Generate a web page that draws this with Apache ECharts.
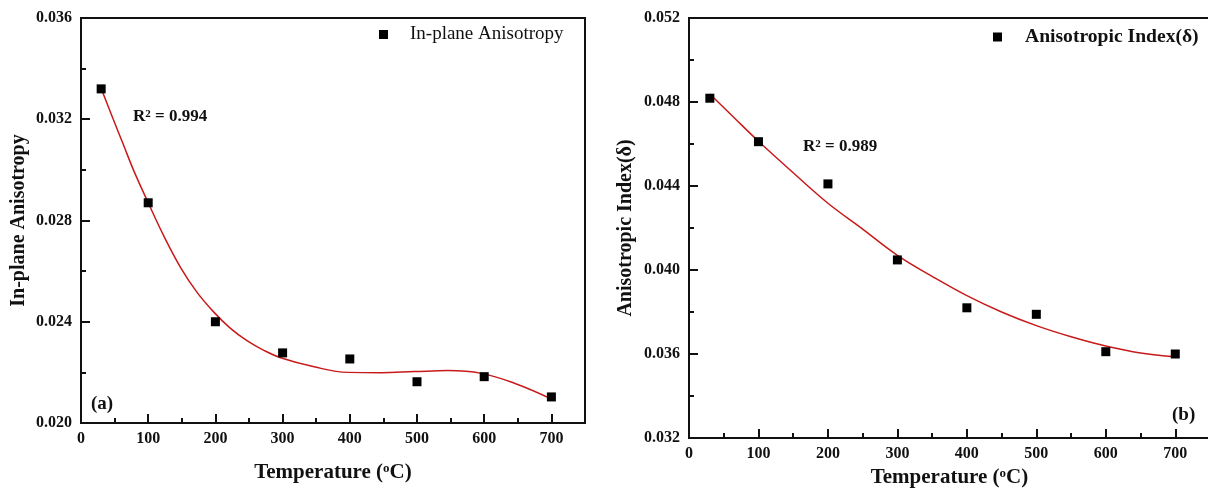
<!DOCTYPE html>
<html><head><meta charset="utf-8">
<script src="https://cdn.jsdelivr.net/npm/echarts@6/dist/echarts.min.js"></script>
<style>html,body{margin:0;padding:0;background:#fff}#c{width:1208px;height:490px}</style>
</head><body><div id="c"></div>
<script>
// Measured data (temperature in °C)
const temps = [30, 100, 200, 300, 400, 500, 600, 700];
const inPlane = [0.0332, 0.0287, 0.0240, 0.02277, 0.02253, 0.02163, 0.02183, 0.02103];
const anisoIndex = [0.04818, 0.04611, 0.0441, 0.04048, 0.0382, 0.03789, 0.03611, 0.0360];

// Fitted curves
const fitAX = [30, 48, 63, 78, 100, 123, 148, 173, 198, 222, 247, 272, 297, 347, 397, 446, 496, 546, 596, 645, 700];
const fitAY = [0.03322, 0.0320, 0.0310, 0.0300, 0.0287, 0.02740, 0.02615, 0.02515, 0.02437, 0.02375, 0.02325, 0.02287, 0.02258, 0.02222, 0.0220, 0.02199, 0.02203, 0.02207, 0.02196, 0.02157, 0.02095];
const fitBX = [30, 65, 100, 150, 200, 250, 300, 350, 400, 450, 500, 550, 600, 650, 700];
const fitBY = [0.04838, 0.04725, 0.04613, 0.04463, 0.04318, 0.04195, 0.0407, 0.0397, 0.03878, 0.0380, 0.03735, 0.03682, 0.03638, 0.03605, 0.03587];

// Axis settings
const xRange = [0, 750];
const yRangeA = [0.020, 0.036];
const yRangeB = [0.032, 0.052];
const yStep = 0.004;
const xStep = 100;

const seriesNameA = 'In-plane Anisotropy';
const seriesNameB = 'Anisotropic Index(δ)';
const r2A = '0.994';
const r2B = '0.989';

const FONT = "'Liberation Serif', 'Times New Roman', serif";
const INK = '#111';
const RED = '#c81a1a';

function xMain(grid, gap) {
  return {
    gridIndex: grid, type: 'value', min: xRange[0], max: xRange[1], interval: xStep,
    axisLine: { lineStyle: { color: INK, width: 2 } },
    axisTick: { inside: true, length: 9, lineStyle: { color: INK, width: 2 } },
    axisLabel: { margin: 8, fontSize: 16, fontWeight: 'bold', color: INK, fontFamily: FONT,
      formatter: v => (v % 100 === 0 ? String(v) : '') },
    splitLine: { show: false },
    name: '{t|Temperature (}{s|o}{t|C)}', nameLocation: 'middle', nameGap: gap,
    nameTextStyle: { rich: {
      t: { fontSize: 21, fontWeight: 'bold', color: INK, fontFamily: FONT },
      s: { fontSize: 13, fontWeight: 'bold', color: INK, fontFamily: FONT, verticalAlign: 'top' } } }
  };
}
function xMinor(grid) {
  return {
    gridIndex: grid, type: 'value', min: xRange[0], max: xRange[1], interval: xStep / 2, position: 'bottom',
    axisLine: { show: false }, axisLabel: { show: false }, splitLine: { show: false },
    axisTick: { inside: true, length: 5, lineStyle: { color: INK, width: 2 } }
  };
}
function yAx(grid, range, name, gap) {
  return {
    gridIndex: grid, type: 'value', min: range[0], max: range[1], interval: yStep,
    axisLine: { show: true, lineStyle: { color: INK, width: 2 } },
    axisTick: { show: true, inside: true, length: 9, lineStyle: { color: INK, width: 2 } },
    minorTick: { show: true, splitNumber: 2, length: 5, lineStyle: { color: INK, width: 2 } },
    axisLabel: { margin: 9, fontSize: 16, fontWeight: 'bold', color: INK, fontFamily: FONT,
      formatter: v => v.toFixed(3) },
    splitLine: { show: false }, minorSplitLine: { show: false },
    name: name, nameLocation: 'middle', nameGap: gap,
    nameTextStyle: { fontSize: 20, fontWeight: 'bold', color: INK, fontFamily: FONT }
  };
}

const chart = echarts.init(document.getElementById('c'));
chart.setOption({
  animation: false,
  backgroundColor: '#fff',
  grid: [
    { left: 81, top: 18, width: 504, height: 405, show: true, borderColor: INK, borderWidth: 2, backgroundColor: 'transparent', outerBoundsMode: 'none', containLabel: false },
    { left: 689, top: 18, width: 521, height: 420, show: true, borderColor: INK, borderWidth: 2, backgroundColor: 'transparent', outerBoundsMode: 'none', containLabel: false }
  ],
  xAxis: [xMain(0, 39), xMinor(0), xMain(1, 29), xMinor(1)],
  yAxis: [yAx(0, yRangeA, seriesNameA, 52), yAx(1, yRangeB, seriesNameB, 53)],
  legend: [
    { data: [seriesNameA], left: 379, top: 25, padding: 0, itemWidth: 9, itemHeight: 9, icon: 'rect', selectedMode: false,
      textStyle: { fontSize: 19, color: INK, fontFamily: FONT, padding: [0, 0, 0, 17] } },
    { data: [seriesNameB], left: 993, top: 27, padding: 0, itemWidth: 9, itemHeight: 9, icon: 'rect', selectedMode: false,
      textStyle: { fontSize: 19.6, fontWeight: 'bold', color: INK, fontFamily: FONT, padding: [0, 0, 0, 18] } }
  ],
  series: [
    { type: 'line', xAxisIndex: 0, yAxisIndex: 0, data: fitAX.map((x, i) => [x, fitAY[i]]), smooth: 0.4,
      showSymbol: false, symbol: 'none', lineStyle: { color: RED, width: 1.5 }, z: 2, silent: true },
    { type: 'scatter', name: seriesNameA, xAxisIndex: 0, yAxisIndex: 0, data: temps.map((x, i) => [x, inPlane[i]]),
      symbol: 'rect', symbolSize: 9, itemStyle: { color: '#000', opacity: 1 }, z: 3 },
    { type: 'line', xAxisIndex: 2, yAxisIndex: 1, data: fitBX.map((x, i) => [x, fitBY[i]]), smooth: 0.4,
      showSymbol: false, symbol: 'none', lineStyle: { color: RED, width: 1.5 }, z: 2, silent: true },
    { type: 'scatter', name: seriesNameB, xAxisIndex: 2, yAxisIndex: 1, data: temps.map((x, i) => [x, anisoIndex[i]]),
      symbol: 'rect', symbolSize: 9, itemStyle: { color: '#000', opacity: 1 }, z: 3 }
  ],
  graphic: [
    { type: 'text', x: 133, y: 117, style: { text: '{r|R}{s|2}{r| = ' + r2A + '}', verticalAlign: 'middle',
      rich: { r: { fontSize: 17, fontWeight: 'bold', fontFamily: FONT, fill: INK },
              s: { fontSize: 11, fontWeight: 'bold', fontFamily: FONT, fill: INK, verticalAlign: 'top' } } } },
    { type: 'text', x: 803, y: 147, style: { text: '{r|R}{s|2}{r| = ' + r2B + '}', verticalAlign: 'middle',
      rich: { r: { fontSize: 17, fontWeight: 'bold', fontFamily: FONT, fill: INK },
              s: { fontSize: 11, fontWeight: 'bold', fontFamily: FONT, fill: INK, verticalAlign: 'top' } } } },
    { type: 'text', x: 91, y: 404, style: { text: '(a)', verticalAlign: 'middle', fontSize: 19, fontWeight: 'bold', fontFamily: FONT, fill: INK } },
    { type: 'text', x: 1172, y: 415, style: { text: '(b)', verticalAlign: 'middle', fontSize: 19, fontWeight: 'bold', fontFamily: FONT, fill: INK } }
  ]
});
</script></body></html>
